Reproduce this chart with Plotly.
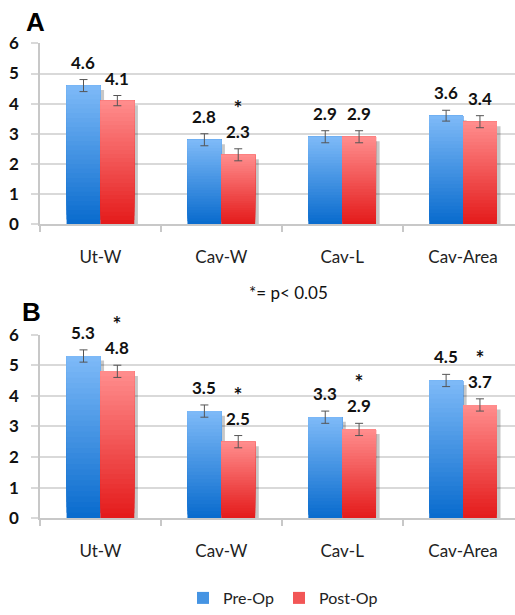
import plotly.graph_objects as go

categories = ["Ut-W", "Cav-W", "Cav-L", "Cav-Area"]
series_names = ["Pre-Op", "Post-Op"]

a_pre = [4.6, 2.8, 2.9, 3.6]
a_post = [4.1, 2.3, 2.9, 3.4]
a_pre_err = [0.2, 0.2, 0.2, 0.18]
a_post_err = [0.17, 0.2, 0.2, 0.2]
a_sig = [False, True, False, False]

b_pre = [5.3, 3.5, 3.3, 4.5]
b_post = [4.8, 2.5, 2.9, 3.7]
b_pre_err = [0.2, 0.2, 0.2, 0.2]
b_post_err = [0.2, 0.2, 0.2, 0.2]
b_sig = [True, True, True, True]

y_ticks = [0, 1, 2, 3, 4, 5, 6]

W, H = 515, 615
BAR_W = 0.28
N_SEG = 30
FONT = "Lato"

pre_top, pre_bot = (125, 185, 247), (10, 108, 206)
post_top, post_bot = (255, 140, 140), (228, 28, 28)


def mix(c1, c2, t):
    return "rgb(%d,%d,%d)" % tuple(round(a + (b - a) * t) for a, b in zip(c1, c2))


fig = go.Figure()


def add_panel(pre, post, pre_err, post_err, sig, xa, ya, show_legend):
    xr = "x" if xa == "xaxis" else "x2"
    yr = "y" if ya == "yaxis" else "y2"
    series = [(pre, pre_err, -BAR_W, pre_top, pre_bot, "Pre-Op"),
              (post, post_err, 0.0, post_top, post_bot, "Post-Op")]
    # shadows
    for vals, err, off, ct, cb, name in series:
        fig.add_trace(go.Bar(
            x=categories, y=[v - 0.15 for v in vals], base=0,
            offset=off + 0.03, width=BAR_W,
            marker=dict(color="rgba(0,0,0,0.22)", line=dict(width=0)),
            xaxis=xr, yaxis=yr, showlegend=False, hoverinfo="skip"))
    for vals, err, off, ct, cb, name in series:
        for k in range(N_SEG):
            t = k / (N_SEG - 1)
            last = k == N_SEG - 1
            fig.add_trace(go.Bar(
                x=categories,
                base=[v * k / N_SEG for v in vals],
                y=[v * (N_SEG - k) / N_SEG for v in vals],
                offset=off, width=BAR_W,
                marker=dict(color=mix(cb, ct, t), line=dict(width=0)),
                error_y=dict(type="data", array=err, color="#555555", thickness=1, width=4, visible=last),
                xaxis=xr, yaxis=yr, name=name, legendgroup=name,
                showlegend=(show_legend and k == N_SEG // 2),
                hoverinfo="skip"))
    # value labels (with significance star stacked above when flagged)
    for i, c in enumerate(categories):
        fig.add_annotation(x=c, y=pre[i] + pre_err[i], xref=xr, yref=yr,
                           text="<b>%.1f</b>" % pre[i], showarrow=False,
                           xshift=-17, yshift=5, yanchor="bottom",
                           font=dict(family=FONT, size=17, color="#111111"))
        txt = "<b>%.1f</b>" % post[i]
        if sig[i]:
            txt = "<span style='font-size:21px'><b>*</b></span><br>" + txt
        fig.add_annotation(x=c, y=post[i] + post_err[i], xref=xr, yref=yr,
                           text=txt, showarrow=False,
                           xshift=17, yshift=5, yanchor="bottom",
                           font=dict(family=FONT, size=17, color="#111111"))


add_panel(a_pre, a_post, a_pre_err, a_post_err, a_sig, "xaxis", "yaxis", True)
add_panel(b_pre, b_post, b_pre_err, b_post_err, b_sig, "xaxis2", "yaxis2", False)

xdom = [40 / W, 1.0]
ydomA = [1 - 227 / H, 1 - 44 / H]
ydomB = [1 - 525 / H, 1 - 339 / H]

xcommon = dict(type="category", categoryorder="array", categoryarray=categories,
               range=[-0.5, 3.43], domain=xdom, showgrid=False, zeroline=False,
               showline=True, linecolor="#c8c8c8", linewidth=1.5,
               ticks="outside", tickson="boundaries", ticklen=6, tickcolor="#c8c8c8",
               tickwidth=1.5, ticklabelstandoff=17,
               tickfont=dict(family=FONT, size=17, color="#222222"), automargin=False)
ycommon = dict(range=[0, 6], tickvals=y_ticks, showgrid=True, gridcolor="#d9d9d9",
               gridwidth=1.5, zeroline=False, showline=True, linecolor="#c8c8c8",
               linewidth=1.5, ticks="outside", ticklen=7, tickcolor="#d9d9d9",
               tickwidth=1.5, ticklabelstandoff=9,
               tickfont=dict(family=FONT, size=17, color="#111111", weight="bold"),
               automargin=False)

fig.update_layout(
    width=W, height=H, margin=dict(l=0, r=0, t=0, b=0),
    paper_bgcolor="white", plot_bgcolor="white", template="none",
    barmode="overlay",
    xaxis=dict(xcommon, anchor="y"),
    yaxis=dict(ycommon, domain=ydomA, anchor="x"),
    xaxis2=dict(xcommon, anchor="y2"),
    yaxis2=dict(ycommon, domain=ydomB, anchor="x2"),
    legend=dict(orientation="h", x=283 / W, xanchor="center", y=1 - 606 / H, yanchor="middle",
                font=dict(family=FONT, size=16, color="#222222"), itemwidth=30,
                traceorder="normal", bgcolor="rgba(0,0,0,0)"),
    showlegend=True,
)

fig.add_annotation(x=35 / W, y=1 - 22 / H, xref="paper", yref="paper", text="<b>A</b>",
                   xanchor="center", yanchor="middle", showarrow=False,
                   font=dict(family="Liberation Sans", size=26, color="#000"))
fig.add_annotation(x=31 / W, y=1 - 316 / H, xref="paper", yref="paper", text="<b>B</b>",
                   xanchor="center", yanchor="middle", showarrow=False,
                   font=dict(family="Liberation Sans", size=26, color="#000"))
fig.add_annotation(x=288 / W, y=1 - 296 / H, xref="paper", yref="paper", text="*= p< 0.05",
                   xanchor="center", yanchor="middle", showarrow=False,
                   font=dict(family=FONT, size=17, color="#111111"))

fig.write_html(
    "out.html",
    config={"displayModeBar": False},
    post_script=(
        "document.documentElement.style.overflow='hidden';"
        "document.body.style.margin='0';"
        "document.body.style.overflow='hidden';"
    ),
)
